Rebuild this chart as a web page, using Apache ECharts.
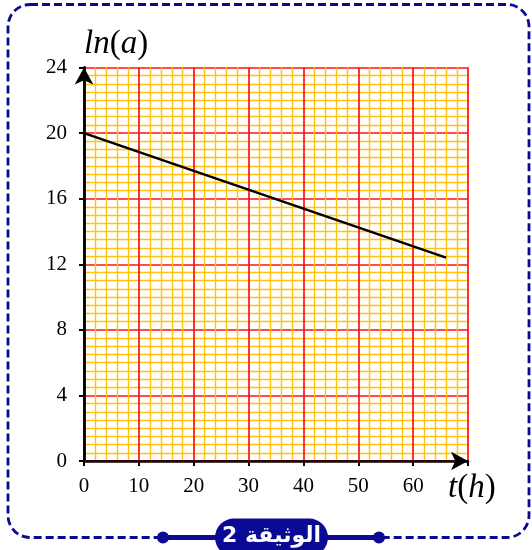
<!DOCTYPE html>
<html>
<head>
<meta charset="utf-8">
<script src="https://cdn.jsdelivr.net/npm/echarts@6/dist/echarts.min.js"></script>
<style>
  html, body { margin: 0; padding: 0; background: #fff; }
  #main { width: 532px; height: 550px; }
</style>
</head>
<body>
<div id="main"></div>
<script>
var tValues = [0, 66];          // t (h)
var lnAValues = [20, 12.4];     // ln(a)
var xTickLabels = [0, 10, 20, 30, 40, 50, 60];
var yTickLabels = [0, 4, 8, 12, 16, 20, 24];
var badgeText = 'الوثيقة 2';

var serif = '"Liberation Serif", "DejaVu Serif", serif';
var blue = '#0a0a94';
var yellow = '#ffc20e';
var red = '#ff1010';

var chartDom = document.getElementById('main');
var myChart = echarts.init(chartDom);

var linePoints = tValues.map(function (t, i) { return [t, lnAValues[i]]; });

var mathRich = {
    i: { fontFamily: serif, fontStyle: 'italic', fontSize: 33, color: '#000' },
    u: { fontFamily: serif, fontSize: 33, color: '#000' }
};

var option = {
    backgroundColor: '#fff',
    animation: false,
    grid: { left: 84, right: 64, top: 67.5, bottom: 89 },
    xAxis: [
        {
            type: 'value',
            min: 0,
            max: 70,
            interval: 10,
            name: '{i|t}{u|(}{i|h}{u|)}',
            nameLocation: 'end',
            nameGap: -20,
            nameTextStyle: { verticalAlign: 'top', align: 'left', padding: [11, 0, 0, 0], rich: mathRich },
            axisLine: { show: true, lineStyle: { color: '#000', width: 2.5 }, symbol: ['none', 'arrow'], symbolSize: [14, 17], symbolOffset: [0, 0] },
            axisTick: { show: true, length: 5, lineStyle: { color: '#000', width: 2 } },
            axisLabel: {
                margin: 15, fontSize: 21, fontFamily: serif, color: '#000',
                formatter: function (v) { return xTickLabels.indexOf(v) >= 0 ? String(v) : ''; }
            },
            splitLine: { show: true, lineStyle: { color: red, width: 1.7 } },
            minorTick: { show: false, splitNumber: 5 },
            minorSplitLine: { show: true, lineStyle: { color: yellow, width: 1.4 } }
        },
        {
            type: 'value',
            position: 'top',
            min: 0,
            max: 70,
            axisLine: { show: true, lineStyle: { color: '#3a0000', width: 2 } },
            axisTick: { show: false },
            axisLabel: { show: false },
            splitLine: { show: false }
        }
    ],
    yAxis: [
        {
            type: 'value',
            min: 0,
            max: 24,
            interval: 4,
            name: '{i|ln}{u|(}{i|a}{u|)}',
            nameLocation: 'end',
            nameGap: 7,
            nameTextStyle: { align: 'left', rich: mathRich },
            axisLine: { show: true, lineStyle: { color: '#000', width: 2.5 }, symbol: ['none', 'arrow'], symbolSize: [14, 17], symbolOffset: [0, 0] },
            axisTick: { show: true, length: 5, lineStyle: { color: '#000', width: 2 } },
            axisLabel: {
                margin: 17, fontSize: 21, fontFamily: serif, color: '#000',
                formatter: function (v) { return yTickLabels.indexOf(v) >= 0 ? String(v) : ''; }
            },
            splitLine: { show: true, lineStyle: { color: red, width: 1.7 } },
            minorTick: { show: false, splitNumber: 8 },
            minorSplitLine: { show: true, lineStyle: { color: yellow, width: 1.4 } }
        },
        {
            type: 'value',
            position: 'right',
            min: 0,
            max: 24,
            axisLine: { show: true, lineStyle: { color: '#000', width: 2.5 } },
            axisTick: { show: false },
            axisLabel: { show: false },
            splitLine: { show: false }
        }
    ],
    series: [
        {
            type: 'line',
            data: linePoints,
            showSymbol: false,
            lineStyle: { color: '#000', width: 2.5 },
            z: 5
        }
    ],
    graphic: [
        // cadre en pointillés
        {
            type: 'rect',
            shape: { x: 8, y: 4.5, width: 521, height: 533, r: 22 },
            style: { fill: 'none', stroke: blue, lineWidth: 2.8, lineDash: [8, 4] },
            silent: true
        },
        {
            type: 'line',
            shape: { x1: 163, y1: 537.5, x2: 379, y2: 537.5 },
            style: { stroke: blue, lineWidth: 5 },
            silent: true
        },
        {
            type: 'circle',
            shape: { cx: 163, cy: 537.5, r: 6 },
            style: { fill: blue },
            silent: true
        },
        {
            type: 'circle',
            shape: { cx: 379, cy: 537.5, r: 6 },
            style: { fill: blue },
            silent: true
        },
        {
            type: 'rect',
            shape: { x: 215, y: 518.5, width: 113, height: 38, r: 19 },
            style: { fill: blue },
            silent: true
        },
        {
            type: 'text',
            x: 271.5,
            y: 536,
            style: {
                text: badgeText,
                fill: '#fff',
                font: 'bold 22px "DejaVu Sans", "Noto Sans", sans-serif',
                align: 'center',
                verticalAlign: 'middle'
            },
            silent: true
        }
    ]
};

option && myChart.setOption(option);
</script>
</body>
</html>
